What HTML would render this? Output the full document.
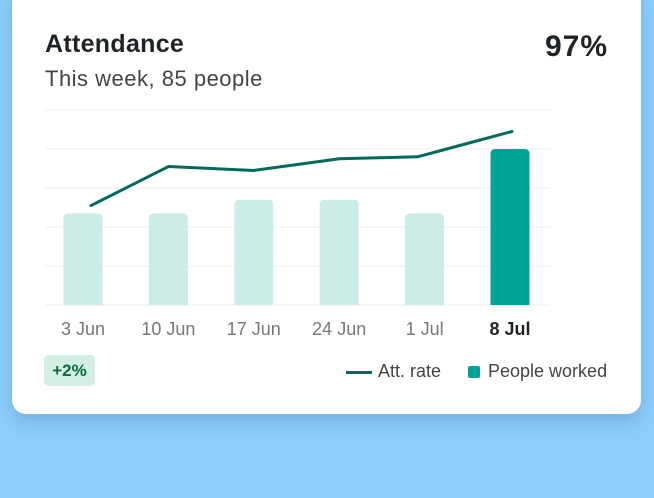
<!DOCTYPE html>
<html><head><meta charset="utf-8"><style>
body{margin:0;width:654px;height:498px;background:#8ecdfc;font-family:"Liberation Sans",sans-serif;overflow:hidden;position:relative}
.card{position:absolute;left:12px;top:-14px;width:629px;height:428px;background:#fff;border-radius:14px;box-shadow:0 8px 18px rgba(40,90,140,.25)}
.t{position:absolute;color:#222;white-space:nowrap}
</style></head><body>
<div class="card"></div>
<div class="t" style="left:45px;top:30px;font-size:25px;font-weight:bold;color:#1f2326;letter-spacing:0.3px">Attendance</div>
<div class="t" style="left:45px;top:66px;font-size:22px;color:#444;letter-spacing:0.5px">This week, 85 people</div>
<div class="t" style="right:46px;top:30px;font-size:30px;font-weight:bold;color:#1f2326;letter-spacing:1px">97%</div>
<svg id="chart" width="654" height="498" style="position:absolute;left:0;top:0"></svg>
<div style="position:absolute;left:44px;top:355px;width:51px;height:31px;background:#d3efe3;border-radius:5px;color:#0a6b3e;font-weight:bold;font-size:17px;line-height:31px;text-align:center">+2%</div>
<div style="position:absolute;left:346px;top:360px;font-size:18px;color:#444;line-height:22px"><span style="display:inline-block;width:26px;height:3px;background:#006b5b;vertical-align:middle;margin-right:6px"></span>Att. rate</div>
<div style="position:absolute;left:468px;top:360px;font-size:18px;color:#444;line-height:22px"><span style="display:inline-block;width:12px;height:12px;border-radius:2px;background:#00a396;vertical-align:-1px;margin-right:8px"></span>People worked</div>
<script>
const categories=["3 Jun","10 Jun","17 Jun","24 Jun","1 Jul","8 Jul"];
const peopleWorked=[47,47,54,54,47,80];
const attRate=[51,71,69,75,76,89];
const ns="http://www.w3.org/2000/svg";
const svg=document.getElementById("chart");
const x0=45,x1=550,y0=305,y1=110;
const xc=i=>83+85.4*i;
const y=v=>y0-(v/100)*(y0-y1);
function mk(t,a){const e=document.createElementNS(ns,t);for(const k in a)e.setAttribute(k,a[k]);svg.appendChild(e);return e;}
for(let g=0;g<=5;g++){const l=mk("line",{x1:x0,x2:x1,y1:y(g*20),y2:y(g*20),stroke:"#eeeeee","stroke-width":1});

}
categories.forEach((c,i)=>{
const w=39,bx=xc(i)-w/2,top=y(peopleWorked[i]),r=5;
const last=i===categories.length-1;
const p=mk("path",{d:`M${bx},${y0}V${top+r}Q${bx},${top} ${bx+r},${top}H${bx+w-r}Q${bx+w},${top} ${bx+w},${top+r}V${y0}Z`,fill:last?"#00a396":"#cdebe7"});


const t=mk("text",{x:xc(i),y:335,"text-anchor":"middle","font-size":18,fill:last?"#1f2326":"#777","font-weight":last?"bold":"normal","font-family":"Liberation Sans, sans-serif"});
t.textContent=c;


});
const pts=attRate.map((v,i)=>[xc(i)+(i===0?8:0)+(i===4?-7:0)+(i===5?2:0),y(v)]);
let d=`M${pts[0][0]},${pts[0][1]}`;
for(let i=1;i<pts.length;i++){const [ax,ay]=pts[i-1],[bx,by]=pts[i];const dx=(bx-ax)*0.15;d+=` C${ax+dx},${ay+(by-ay)*0.15} ${bx-dx},${by-(by-ay)*0.15} ${bx},${by}`;}
const ln=mk("path",{d,fill:"none",stroke:"#006b5b","stroke-width":3,"stroke-linecap":"round","stroke-linejoin":"round"});


</script>
</body></html>
